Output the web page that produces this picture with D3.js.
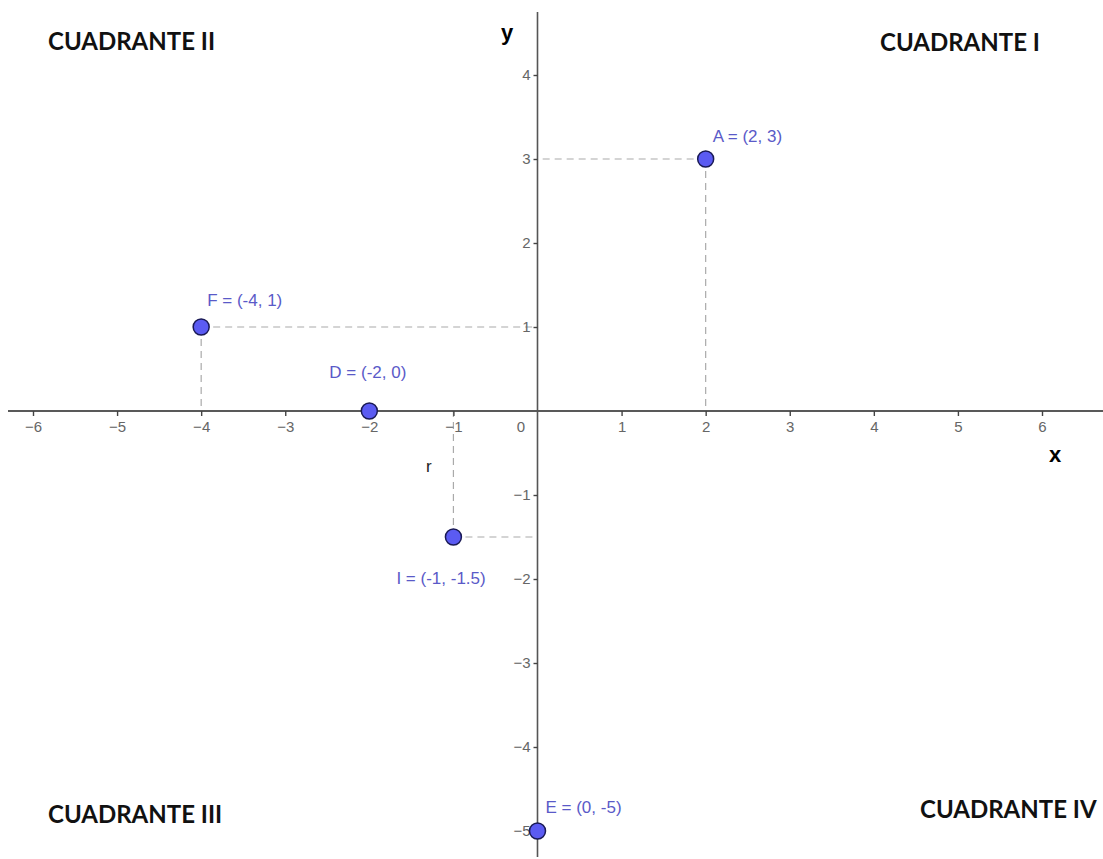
<!DOCTYPE html>
<html>
<head>
<meta charset="utf-8">
<script src="https://d3js.org/d3.v7.min.js"></script>
<style>
  body { margin: 0; background: #fff; }
</style>
</head>
<body>
<div id="plano"></div>
<script>
// valores del plano
var xTicks = [-6, -5, -4, -3, -2, -1, 0, 1, 2, 3, 4, 5, 6];
var yTicks = [-5, -4, -3, -2, -1, 1, 2, 3, 4];
var pointNames = ["A", "F", "D", "I", "E"];
var pointX = [2, -4, -2, -1, 0];
var pointY = [3, 1, 0, -1.5, -5];
var guideX = [true, true, false, true, false];  // linea vertical al eje x
var guideY = [true, true, false, true, false];  // linea horizontal al eje y
var quadrants = ["CUADRANTE I", "CUADRANTE II", "CUADRANTE III", "CUADRANTE IV"];

var width = 1103, height = 859;
var x = d3.scaleLinear().domain([-6, 6]).range([33, 1042]);
var y = d3.scaleLinear().domain([-5, 4]).range([831, 75]);

var svg = d3.select("#plano").append("svg")
  .attr("width", width)
  .attr("height", height);

function fmt(v) {
  return String(v).replace("-", "\u2212");
}

// lineas guia punteadas
pointNames.forEach(function(n, i) {
  if (guideX[i]) {
    svg.append("line")
      .attr("x1", x(pointX[i])).attr("x2", x(pointX[i]))
      .attr("y1", y(pointY[i])).attr("y2", y(0))
      .style("stroke", "#aaa").style("stroke-width", 1.2)
      .style("stroke-dasharray", "7,5");
  }
  if (guideY[i]) {
    svg.append("line")
      .attr("x1", x(pointX[i])).attr("x2", x(0))
      .attr("y1", y(pointY[i])).attr("y2", y(pointY[i]))
      .style("stroke", "#aaa").style("stroke-width", 1.2)
      .style("stroke-dasharray", "7,5");
  }
});

// eje x
svg.append("line")
  .attr("x1", 8).attr("x2", width)
  .attr("y1", y(0)).attr("y2", y(0))
  .style("stroke", "#222").style("stroke-width", 1.6);

var xAxis = d3.axisBottom(x).tickValues(xTicks).tickSize(5).tickFormat(fmt);
var gx = svg.append("g").attr("transform", "translate(0," + y(0) + ")")
  .attr("font-size", 15).attr("font-family", "Liberation Sans, Arial, sans-serif")
  .call(xAxis);
gx.attr("font-size", 15).attr("font-family", "Liberation Sans, Arial, sans-serif");
gx.select(".domain").remove();
gx.selectAll(".tick line").style("stroke", "#444").style("stroke-width", 1.4);
gx.selectAll(".tick text").attr("y", 10).style("fill", "#666");
gx.selectAll(".tick").filter(function(d) { return d === 0; }).select("line").remove();
gx.selectAll(".tick").filter(function(d) { return d === 0; }).select("text").attr("x", -17);

// eje y
svg.append("line")
  .attr("x1", x(0)).attr("x2", x(0))
  .attr("y1", 12).attr("y2", 857)
  .style("stroke", "#555").style("stroke-width", 1.6);

var yAxis = d3.axisLeft(y).tickValues(yTicks).tickSize(4).tickFormat(fmt);
var gy = svg.append("g").attr("transform", "translate(" + x(0) + ",0)").call(yAxis);
gy.attr("font-size", 15).attr("font-family", "Liberation Sans, Arial, sans-serif");
gy.select(".domain").remove();
gy.selectAll(".tick line").style("stroke", "#444").style("stroke-width", 1.4);
gy.selectAll(".tick text").attr("x", -7).style("fill", "#666");

// etiquetas de puntos
var labelDx = [7, 6, -40, -57, 8];
var labelDy = [-17, -21, -33, 47, -18];
pointNames.forEach(function(n, i) {
  svg.append("text")
    .text(n + " = (" + pointX[i] + ", " + pointY[i] + ")")
    .attr("x", x(pointX[i]) + labelDx[i])
    .attr("y", y(pointY[i]) + labelDy[i])
    .style("font-family", "Liberation Sans, Arial, sans-serif")
    .style("font-size", "17px")
    .style("fill", "#5a5ac8");
});

// puntos
svg.selectAll("circle.pt")
  .data(pointNames).enter()
  .append("circle")
  .attr("class", "pt")
  .attr("cx", function(d, i) { return x(pointX[i]); })
  .attr("cy", function(d, i) { return y(pointY[i]); })
  .attr("r", 8)
  .style("fill", "#5b5bf2")
  .style("stroke", "#1a1a55")
  .style("stroke-width", 1.5);

svg.append("text")
  .text("r")
  .attr("x", 426).attr("y", 472)
  .style("font-family", "Liberation Sans, Arial, sans-serif")
  .style("font-size", "17px")
  .style("fill", "#222");

// nombres de ejes
svg.append("text").text("y")
  .attr("x", 501).attr("y", 40)
  .style("font-family", "Liberation Sans, Arial, sans-serif")
  .style("font-weight", "bold").style("font-size", "22px");
svg.append("text").text("x")
  .attr("x", 1049).attr("y", 462)
  .style("font-family", "Liberation Sans, Arial, sans-serif")
  .style("font-weight", "bold").style("font-size", "22px");

// cuadrantes
var qx = [880, 48, 48, 920];
var qy = [51, 50, 823, 818];
quadrants.forEach(function(q, i) {
  svg.append("text")
    .text(q)
    .attr("x", qx[i]).attr("y", qy[i])
    .style("font-family", "Lato, sans-serif")
    .style("font-weight", "bold")
    .style("font-size", "24px")
    .style("fill", "#111");
});
</script>
</body>
</html>
